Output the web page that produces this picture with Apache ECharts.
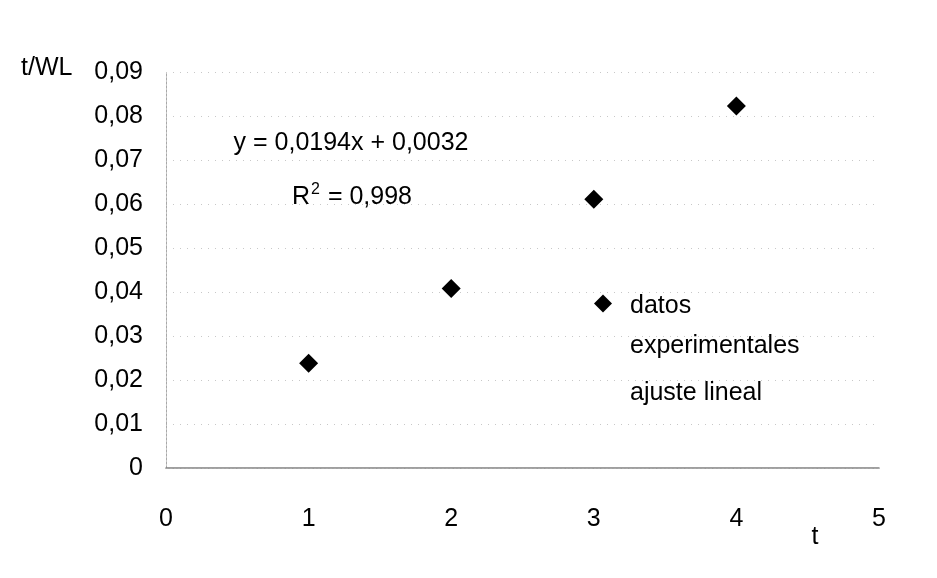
<!DOCTYPE html>
<html>
<head>
<meta charset="utf-8">
<script src="https://cdn.jsdelivr.net/npm/echarts@6/dist/echarts.min.js"></script>
<style>
  html, body { margin: 0; padding: 0; background: #fff; }
  #chart { width: 937px; height: 578px; }
</style>
</head>
<body>
<div id="chart"></div>
<script>
// Measured points: time t and t/WL
const tValues = [1, 2, 3, 4];
const tOverWL = [0.0238, 0.0408, 0.0611, 0.0823];

// Linear fit reported on the chart
const fitSlope = 0.0194;
const fitIntercept = 0.0032;
const fitR2 = 0.998;

// Axis ticks
const xTicks = [0, 1, 2, 3, 4, 5];
const yTicks = [0, 0.01, 0.02, 0.03, 0.04, 0.05, 0.06, 0.07, 0.08, 0.09];

const FONT = "'Liberation Sans', Arial, sans-serif";
const FS = 25;

const comma = (v, d) => v.toFixed(d).replace('.', ',');

const chart = echarts.init(document.getElementById('chart'), null, { renderer: 'canvas' });

const option = {
  backgroundColor: '#ffffff',
  animation: false,
  textStyle: { fontFamily: FONT, color: '#000' },
  grid: { left: 166, right: 58, top: 72, bottom: 110, containLabel: false },
  xAxis: [
    {
      type: 'value',
      position: 'bottom',
      min: xTicks[0],
      max: xTicks[xTicks.length - 1],
      interval: 1,
      axisLine: { show: true, lineStyle: { color: '#808080', width: 1.5 } },
      axisTick: { show: false },
      splitLine: { show: false },
      axisLabel: {
        margin: 39,
        fontSize: FS,
        fontFamily: FONT,
        color: '#000',
        formatter: v => String(v)
      }
    },
    {
      type: 'value',
      position: 'top',
      min: xTicks[0],
      max: xTicks[xTicks.length - 1],
      axisLine: { show: true, lineStyle: { color: '#a8a8a8', type: [2, 2] } },
      axisTick: { show: false },
      axisLabel: { show: false },
      splitLine: { show: false }
    }
  ],
  yAxis: [
    {
      type: 'value',
      position: 'left',
      min: yTicks[0],
      max: yTicks[yTicks.length - 1],
      interval: 0.01,
      axisLine: { show: true, lineStyle: { color: '#a0a0a0', type: [2, 2] } },
      axisTick: { show: false },
      splitLine: { show: true, lineStyle: { color: '#c8c8c8', width: 1, type: [1, 6] } },
      axisLabel: {
        margin: 23,
        fontSize: FS,
        fontFamily: FONT,
        color: '#000',
        formatter: v => (v === 0 ? '0' : comma(v, 2))
      }
    },
    {
      type: 'value',
      position: 'right',
      min: yTicks[0],
      max: yTicks[yTicks.length - 1],
      axisLine: { show: true, lineStyle: { color: '#a8a8a8', type: [2, 2] } },
      axisTick: { show: false },
      axisLabel: { show: false },
      splitLine: { show: false }
    }
  ],
  legend: [
    {
      data: [{ name: 'datos experimentales', icon: 'diamond', itemStyle: { color: '#000', opacity: 1 } }],
      orient: 'vertical',
      left: 594,
      top: 251,
      padding: 0,
      itemWidth: 18,
      itemHeight: 18,
      selectedMode: false,
      formatter: () => '{b| }\n{a|datos}\n{a|experimentales}',
      textStyle: {
        padding: [0, 0, 0, 13],
        fontFamily: FONT,
        fontSize: FS,
        color: '#000',
        rich: {
          a: { fontFamily: FONT, fontSize: FS, lineHeight: 40, color: '#000' },
          b: { fontFamily: FONT, fontSize: FS, lineHeight: 46 }
        }
      }
    },
    {
      data: [{ name: 'ajuste lineal', icon: 'none' }],
      orient: 'vertical',
      left: 594,
      top: 373,
      padding: 0,
      itemWidth: 18,
      itemHeight: 18,
      selectedMode: false,
      textStyle: {
        padding: [0, 0, 0, 13],
        fontFamily: FONT,
        fontSize: FS,
        lineHeight: 40,
        color: '#000'
      }
    }
  ],
  graphic: [
    {
      type: 'text',
      x: 21,
      y: 68,
      style: { text: 't/WL', font: FS + 'px ' + FONT, fill: '#000', align: 'left', verticalAlign: 'middle' }
    },
    {
      type: 'text',
      x: 815,
      y: 537,
      style: { text: 't', font: FS + 'px ' + FONT, fill: '#000', align: 'center', verticalAlign: 'middle' }
    },
    {
      type: 'text',
      x: 351,
      y: 143,
      style: {
        text: 'y = ' + comma(fitSlope, 4) + 'x + ' + comma(fitIntercept, 4),
        font: FS + 'px ' + FONT, fill: '#000', align: 'center', verticalAlign: 'middle'
      }
    },
    {
      type: 'text',
      x: 352,
      y: 197,
      style: {
        text: '{a|R}{s|2}{a| = ' + comma(fitR2, 3) + '}',
        align: 'center',
        verticalAlign: 'middle',
        rich: {
          a: { fontFamily: FONT, fontSize: FS, lineHeight: 28, fill: '#000', color: '#000' },
          s: { fontFamily: FONT, fontSize: 16, lineHeight: 16, padding: [0, 1, 13, 1], fill: '#000', color: '#000', verticalAlign: 'bottom' }
        }
      }
    }
  ],
  series: [
    {
      name: 'datos experimentales',
      type: 'scatter',
      xAxisIndex: 0,
      yAxisIndex: 0,
      symbol: 'diamond',
      symbolSize: 19,
      itemStyle: { color: '#000', opacity: 1 },
      data: tValues.map((t, i) => [t, tOverWL[i]])
    },
    {
      name: 'ajuste lineal',
      type: 'line',
      xAxisIndex: 0,
      yAxisIndex: 0,
      showSymbol: false,
      lineStyle: { color: '#000', width: 1 },
      data: []
    }
  ]
};

chart.setOption(option);
</script>
</body>
</html>
